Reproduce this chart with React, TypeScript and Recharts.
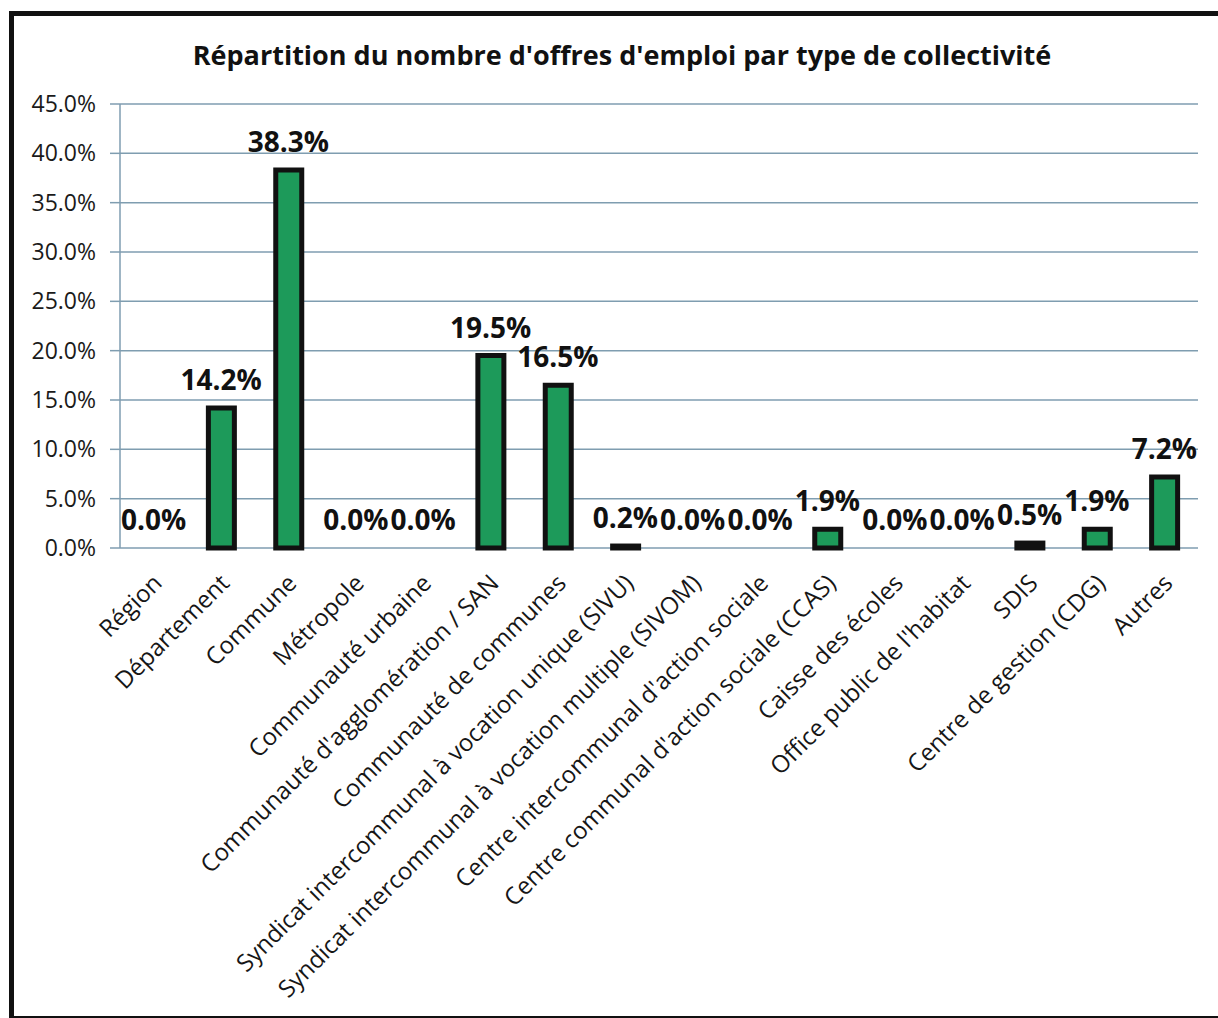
import React from 'react';
import { ComposedChart, Bar, Line, XAxis, YAxis, CartesianGrid, LabelList } from 'recharts';

const categories = [
  'Région',
  'Département',
  'Commune',
  'Métropole',
  'Communauté urbaine',
  "Communauté d'agglomération / SAN",
  'Communauté de communes',
  'Syndicat intercommunal à vocation unique (SIVU)',
  'Syndicat intercommunal à vocation multiple (SIVOM)',
  "Centre intercommunal d'action sociale",
  "Centre communal d'action sociale (CCAS)",
  'Caisse des écoles',
  "Office public de l'habitat",
  'SDIS',
  'Centre de gestion (CDG)',
  'Autres',
];
const shares = [0.0, 14.2, 38.3, 0.0, 0.0, 19.5, 16.5, 0.2, 0.0, 0.0, 1.9, 0.0, 0.0, 0.5, 1.9, 7.2];
const yTicks = [0, 5, 10, 15, 20, 25, 30, 35, 40, 45];
const title = "Répartition du nombre d'offres d'emploi par type de collectivité";

const data = categories.map((name, i) => ({ name, value: shares[i] }));
const boundaryTicks = categories.map((_, i) => i).concat([categories.length]);

const FONT = "'Open Sans', sans-serif";
const GRID = '#7f9db0';
const fmt = (v: number) => v.toFixed(1) + '%';

const CatTick = (props: any) => {
  const { x, y, payload } = props;
  const ax = x - 5;
  const ay = y + 14;
  return (
    <text
      x={ax}
      y={ay}
      transform={`rotate(-45, ${ax}, ${ay})`}
      textAnchor="end"
      dominantBaseline="hanging"
      fontFamily={FONT}
      fontSize={24}
      fill="#161616"
    >
      {payload.value}
    </text>
  );
};

export default function App() {
  return (
    <div style={{ position: 'absolute', left: 0, top: 0, width: 1218, height: 1018, background: '#fff', overflow: 'hidden' }}>
      <div
        style={{
          position: 'absolute',
          left: 9,
          top: 11,
          width: 1240,
          height: 1000,
          borderLeft: '5px solid #111',
          borderTop: '5px solid #111',
          borderBottom: '5px solid #111',
        }}
      />
      <div
        style={{
          position: 'absolute',
          left: 0,
          top: 36,
          width: 1244,
          textAlign: 'center',
          fontFamily: FONT,
          fontWeight: 700,
          fontSize: 27,
          color: '#111',
        }}
      >
        {title}
      </div>
      <div style={{ position: 'absolute', left: 0, top: 0 }}>
        <ComposedChart
          width={1218}
          height={1018}
          data={data}
          margin={{ top: 104, right: 20, bottom: 15, left: 0 }}
        >
          <CartesianGrid vertical={false} stroke={GRID} strokeWidth={1.5} />
          <XAxis
            xAxisId="b"
            type="number"
            domain={[0, categories.length]}
            ticks={boundaryTicks}
            allowDataOverflow
            height={0}
            tick={false}
            tickLine={{ stroke: GRID, strokeWidth: 1.5 }}
            tickSize={8}
            axisLine={{ stroke: GRID, strokeWidth: 1.5 }}
          />
          <XAxis
            dataKey="name"
            interval={0}
            height={455}
            tickLine={false}
            axisLine={false}
            tick={<CatTick />}
          />
          <YAxis
            width={120}
            domain={[0, 45]}
            ticks={yTicks}
            tickFormatter={fmt}
            tick={{ fontFamily: FONT, fontSize: 23, fill: '#1a1a1a' }}
            tickLine={{ stroke: GRID, strokeWidth: 1.5 }}
            tickSize={10}
            tickMargin={14}
            axisLine={{ stroke: GRID, strokeWidth: 1.5 }}
          />
          <Bar dataKey="value" barSize={26} fill="#1d9a5a" stroke="#111" strokeWidth={5} isAnimationActive={false} />
          <Line
            dataKey="value"
            stroke="none"
            dot={false}
            activeDot={false}
            legendType="none"
            isAnimationActive={false}
          >
            <LabelList
              dataKey="value"
              position="top"
              offset={18}
              formatter={fmt}
              style={{ fontFamily: FONT, fontWeight: 700, fontSize: 28, fill: '#111' }}
            />
          </Line>
        </ComposedChart>
      </div>
    </div>
  );
}
